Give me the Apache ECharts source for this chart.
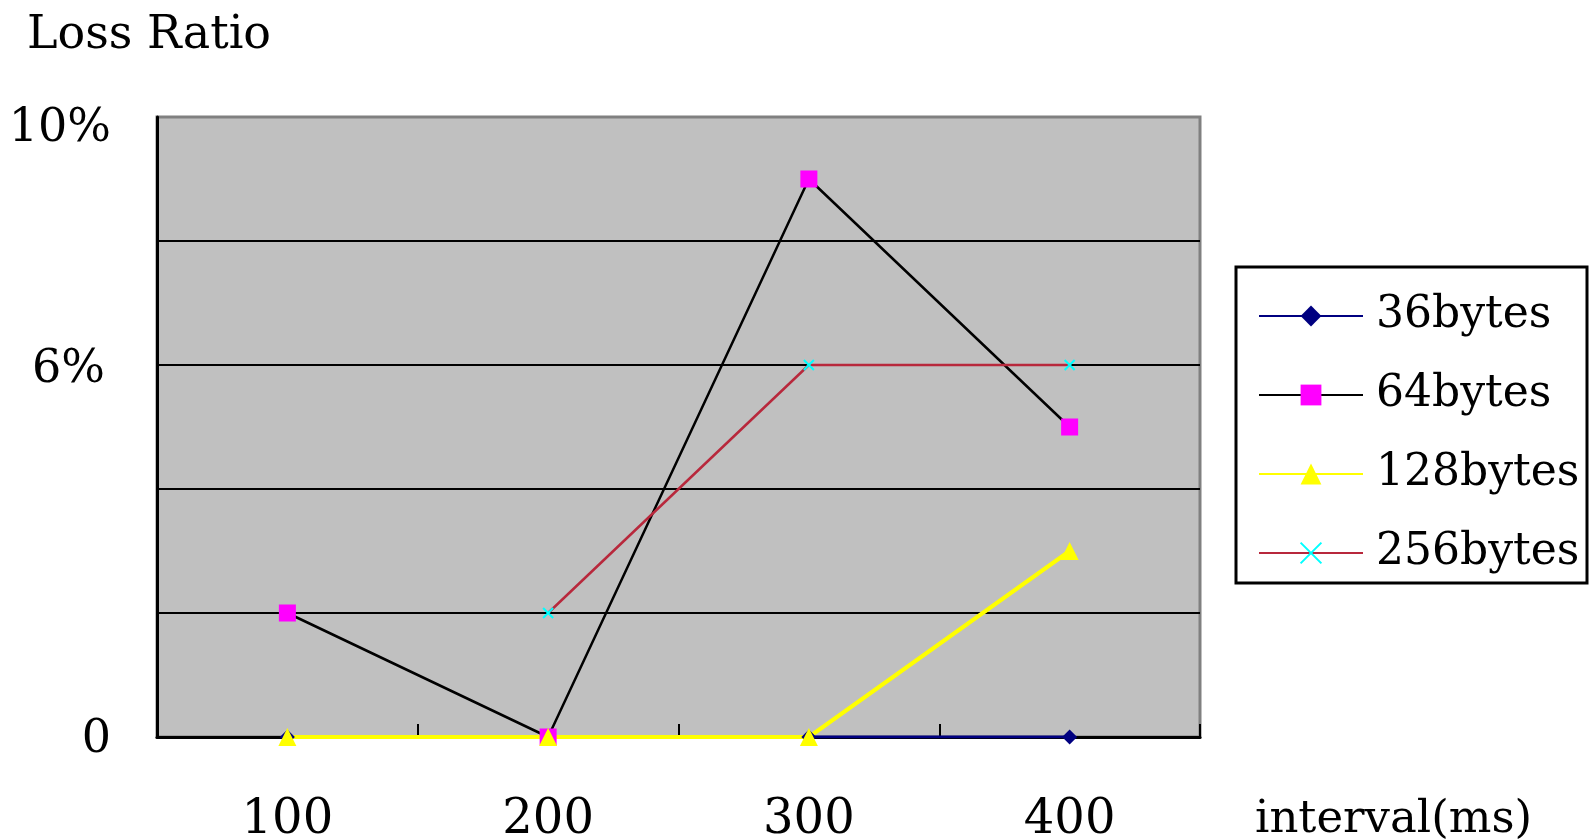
<!DOCTYPE html>
<html>
<head>
<meta charset="utf-8">
<script src="https://cdn.jsdelivr.net/npm/echarts@6/dist/echarts.min.js"></script>
<style>
  html, body { margin: 0; padding: 0; background: #fff; }
  #chart { width: 1590px; height: 840px; }
</style>
</head>
<body>
<div id="chart"></div>
<script>
// Packet loss ratio (%) per send interval, one series per packet size
const categories = ['100', '200', '300', '400'];
const loss36 = [0, 0, 0, 0];
const loss64 = [2, 0, 9, 5];
const loss128 = [0, 0, 0, 3];
const loss256 = [null, 2, 6, 6];
const seriesNames = ['36bytes', '64bytes', '128bytes', '256bytes'];
// Only these y values carry a label
const yTickLabels = { 0: '0', 6: '6%', 10: '10%' };

const FONT = 'DejaVu Serif';
const crossPath = 'path://M0,0L10,10M10,0L0,10';

const chart = echarts.init(document.getElementById('chart'));

chart.setOption({
  animation: false,
  backgroundColor: '#ffffff',
  grid: {
    left: 157, right: 390, top: 117, bottom: 103,
    outerBoundsMode: 'none',
    show: true,
    backgroundColor: '#c0c0c0',
    borderColor: '#808080',
    borderWidth: 3
  },
  legend: {
    orient: 'vertical',
    left: 1253,
    top: 288,
    itemWidth: 104,
    itemHeight: 26,
    itemGap: 33,
    data: seriesNames,
    textStyle: {
      fontFamily: FONT, fontSize: 44, color: '#000', lineHeight: 46,
      padding: [0, 0, 0, 8]
    }
  },
  graphic: [{
    type: 'rect',
    z: 0,
    shape: { x: 1236, y: 267, width: 351, height: 316 },
    style: { fill: '#ffffff', stroke: '#000000', lineWidth: 3 }
  }],
  xAxis: {
    type: 'category',
    data: categories,
    boundaryGap: true,
    name: 'interval(ms)',
    nameLocation: 'end',
    nameGap: 55,
    nameTextStyle: {
      fontFamily: FONT, fontSize: 45, color: '#000',
      align: 'left', verticalAlign: 'top', padding: [61, 0, 0, 0]
    },
    axisLine: { lineStyle: { color: '#000', width: 3 } },
    axisTick: { show: true, inside: true, length: 13, lineStyle: { color: '#000', width: 2 } },
    axisLabel: { fontFamily: FONT, fontSize: 48, color: '#000', margin: 60 },
    splitLine: { show: false }
  },
  yAxis: {
    type: 'value',
    min: 0,
    max: 10,
    interval: 2,
    name: 'Loss Ratio',
    nameLocation: 'end',
    nameGap: 81,
    nameTextStyle: {
      fontFamily: FONT, fontSize: 46, color: '#000',
      align: 'center', verticalAlign: 'middle', padding: [0, 16, 0, 0]
    },
    axisLine: { show: true, lineStyle: { color: '#000', width: 3 } },
    axisTick: { show: false },
    axisLabel: {
      margin: 46,
      formatter: function (v) {
        const t = yTickLabels[v];
        if (t === undefined) return '';
        if (v === 10) return '{a|' + t + '}';
        if (v === 6) return '{b|' + t + '}';
        return '{c|' + t + '}';
      },
      rich: {
        a: { fontFamily: FONT, fontSize: 46, color: '#000', padding: [24, 0, 0, 0] },
        b: { fontFamily: FONT, fontSize: 46, color: '#000', padding: [10, 6, 0, 0] },
        c: { fontFamily: FONT, fontSize: 46, color: '#000', padding: [6, 0, 0, 0] }
      }
    },
    splitLine: {
      show: true,
      showMinLine: false,
      showMaxLine: false,
      lineStyle: { color: '#000', width: 2 }
    }
  },
  series: [
    {
      name: seriesNames[0],
      type: 'line',
      data: loss36,
      symbol: 'diamond',
      symbolSize: 15,
      showAllSymbol: true,
      itemStyle: { color: '#000080' },
      lineStyle: { color: '#000080', width: 3 }
    },
    {
      name: seriesNames[1],
      type: 'line',
      data: loss64,
      symbol: 'rect',
      symbolSize: 17,
      itemStyle: { color: '#ff00ff' },
      lineStyle: { color: '#000000', width: 2.5 }
    },
    {
      name: seriesNames[2],
      type: 'line',
      data: loss128,
      symbol: 'triangle',
      symbolSize: 18,
      itemStyle: { color: '#ffff00' },
      lineStyle: { color: '#ffff00', width: 4 }
    },
    {
      name: seriesNames[3],
      type: 'line',
      data: loss256,
      connectNulls: false,
      symbol: crossPath,
      symbolSize: 10,
      itemStyle: { color: '#00ffff', borderColor: '#00ffff', borderWidth: 2 },
      lineStyle: { color: '#b8283c', width: 2.5 }
    }
  ]
});
</script>
</body>
</html>
